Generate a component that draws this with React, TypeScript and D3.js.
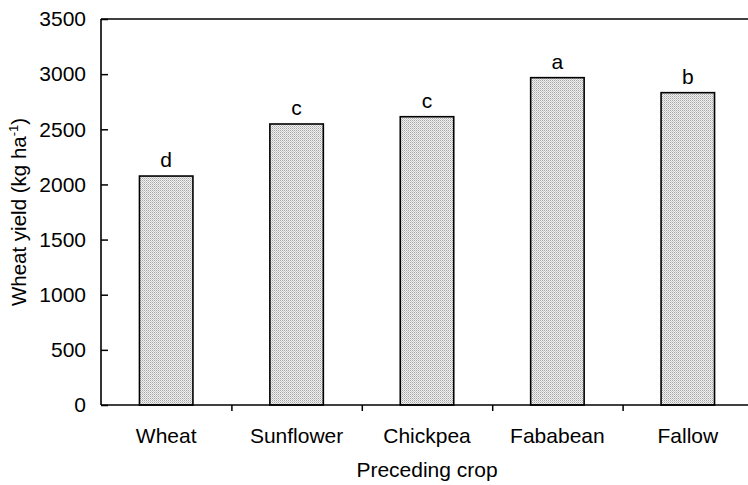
import React, { useRef, useEffect } from 'react';
import { select, scaleBand, scaleLinear, axisLeft, axisBottom, range } from 'd3';

// data
const crops = ['Wheat', 'Sunflower', 'Chickpea', 'Fababean', 'Fallow'];
const yields = [2076, 2548, 2614, 2968, 2832];
const letters = ['d', 'c', 'c', 'a', 'b'];
const yTicks = [0, 500, 1000, 1500, 2000, 2500, 3000, 3500];

const width = 748;
const height = 485;
const margin = { top: 19, right: -5, bottom: 80, left: 101 };
const font = '"Liberation Sans", Arial, sans-serif';

const App: React.FC = () => {
  const svgRef = useRef<SVGSVGElement>(null);

  useEffect(() => {
    const svg = select(svgRef.current);
    svg.selectAll('*').remove();

    const x0 = margin.left;
    const x1 = width - margin.right;
    const y0 = height - margin.bottom; // 405
    const innerH = y0 - margin.top;

    const xScale = scaleBand<string>()
      .domain(crops)
      .range([x0, x1])
      .paddingInner(0.59)
      .paddingOuter(0.295);

    const yScale = scaleLinear().domain([0, 3500]).range([y0, margin.top]);

    // stipple pattern for the bars
    const defs = svg.append('defs');
    const pat = defs
      .append('pattern')
      .attr('id', 'stipple')
      .attr('width', 2)
      .attr('height', 2)
      .attr('patternUnits', 'userSpaceOnUse');
    pat.append('rect').attr('width', 2).attr('height', 2).attr('fill', '#f2f2f2');
    pat.append('rect').attr('width', 1).attr('height', 1).attr('fill', '#a6a6a6');
    pat.append('rect').attr('x', 1).attr('y', 1).attr('width', 1).attr('height', 1).attr('fill', '#c6c6c6');

    // bars
    svg
      .append('g')
      .selectAll('rect')
      .data(crops)
      .join('rect')
      .attr('x', d => xScale(d) as number)
      .attr('y', (d, i) => yScale(yields[i]))
      .attr('width', xScale.bandwidth())
      .attr('height', (d, i) => y0 - yScale(yields[i]))
      .attr('fill', 'url(#stipple)')
      .attr('stroke', '#000')
      .attr('stroke-width', 1.6);

    // significance letters
    svg
      .append('g')
      .selectAll('text')
      .data(crops)
      .join('text')
      .attr('x', d => (xScale(d) as number) + xScale.bandwidth() / 2)
      .attr('y', (d, i) => yScale(yields[i]) - 9)
      .attr('text-anchor', 'middle')
      .attr('font-family', font)
      .attr('font-size', 21)
      .text((d, i) => letters[i]);

    // y axis (ticks pointing inward)
    const yAxis = axisLeft(yScale).tickValues(yTicks).tickSize(-7).tickPadding(15).tickFormat(d => String(d));
    const gy = svg.append('g').attr('transform', `translate(${x0},0)`).call(yAxis);
    gy.select('.domain').remove();
    gy.selectAll('.tick line').attr('stroke', '#000').attr('stroke-width', 1.5);
    gy.selectAll('.tick text').attr('font-family', font).attr('font-size', 21).attr('fill', '#000');

    // x axis: ticks between categories pointing down
    const step = xScale.step();
    const xLin = scaleLinear().domain([0, crops.length]).range([x0, x0 + step * crops.length]);
    const xAxis = axisBottom(xLin).tickValues(range(1, crops.length)).tickSize(6).tickFormat(() => '');
    const gx = svg.append('g').attr('transform', `translate(0,${y0})`).call(xAxis);
    gx.select('.domain').remove();
    gx.selectAll('.tick line').attr('stroke', '#000').attr('stroke-width', 1.5);

    // category labels
    svg
      .append('g')
      .selectAll('text')
      .data(crops)
      .join('text')
      .attr('x', d => (xScale(d) as number) + xScale.bandwidth() / 2)
      .attr('y', 443)
      .attr('text-anchor', 'middle')
      .attr('font-family', font)
      .attr('font-size', 21)
      .text(d => d);

    // frame lines: left, bottom, top
    const frame = svg.append('g').attr('stroke', '#000').attr('stroke-width', 1.6);
    frame.append('line').attr('x1', x0).attr('x2', x0).attr('y1', margin.top).attr('y2', y0);
    frame.append('line').attr('x1', x0).attr('x2', x1).attr('y1', y0).attr('y2', y0);
    frame.append('line').attr('x1', x0).attr('x2', x1).attr('y1', margin.top).attr('y2', margin.top);

    // axis titles
    svg
      .append('text')
      .attr('x', (x0 + x1) / 2)
      .attr('y', 477)
      .attr('text-anchor', 'middle')
      .attr('font-family', font)
      .attr('font-size', 21)
      .text('Preceding crop');

    const yt = svg
      .append('text')
      .attr('transform', `translate(26,${margin.top + innerH / 2}) rotate(-90)`)
      .attr('text-anchor', 'middle')
      .attr('font-family', font)
      .attr('font-size', 20.5);
    yt.append('tspan').text('Wheat yield (kg ha');
    yt.append('tspan').attr('font-size', 13).attr('dy', -8).text('-1');
    yt.append('tspan').attr('dy', 8).text(')');
  }, []);

  return (
    <svg
      ref={svgRef}
      width={width}
      height={height}
      style={{ position: 'absolute', left: 0, top: 0, background: '#fff' }}
    />
  );
};

export default App;
